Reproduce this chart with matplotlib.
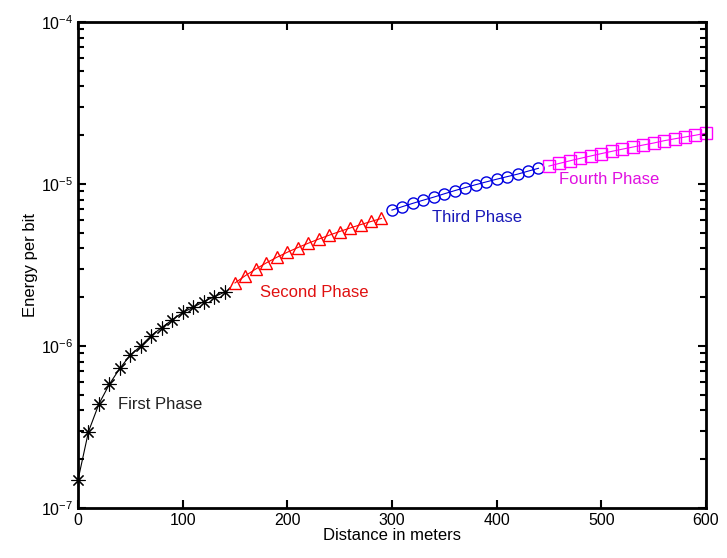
import matplotlib.pyplot as plt

plt.rcParams["font.family"] = ["Liberation Sans", "DejaVu Sans"]

# distance (m) and energy per bit for each phase
dist_1 = [0, 10, 20, 30, 40, 50, 60, 70, 80, 90, 100, 110, 120, 130, 140]
energy_1 = [1.49e-7, 2.96e-7, 4.39e-7, 5.81e-7, 7.28e-7, 8.79e-7, 1.00e-6, 1.16e-6,
            1.30e-6, 1.45e-6, 1.61e-6, 1.73e-6, 1.88e-6, 2.01e-6, 2.15e-6]

dist_2 = [150, 160, 170, 180, 190, 200, 210, 220, 230, 240, 250, 260, 270, 280, 290]
energy_2 = [2.45e-6, 2.72e-6, 2.99e-6, 3.26e-6, 3.53e-6, 3.79e-6, 4.05e-6, 4.31e-6,
            4.57e-6, 4.83e-6, 5.09e-6, 5.35e-6, 5.61e-6, 5.87e-6, 6.13e-6]

dist_3 = [300, 310, 320, 330, 340, 350, 360, 370, 380, 390, 400, 410, 420, 430, 440]
energy_3 = [6.90e-6, 7.25e-6, 7.60e-6, 7.95e-6, 8.30e-6, 8.70e-6, 9.10e-6, 9.50e-6,
            9.90e-6, 1.03e-5, 1.07e-5, 1.11e-5, 1.15e-5, 1.20e-5, 1.25e-5]

dist_4 = [450, 460, 470, 480, 490, 500, 510, 520, 530, 540, 550, 560, 570, 580, 590, 600]
energy_4 = [1.29e-5, 1.34e-5, 1.39e-5, 1.44e-5, 1.49e-5, 1.54e-5, 1.59e-5, 1.64e-5,
            1.69e-5, 1.74e-5, 1.79e-5, 1.85e-5, 1.90e-5, 1.95e-5, 2.00e-5, 2.06e-5]

phase_labels = ["First Phase", "Second Phase", "Third Phase", "Fourth Phase"]
label_pos = [(38, 4.38e-7), (174, 2.13e-6), (338, 6.19e-6), (460, 1.06e-5)]

fig = plt.figure(figsize=(7.27, 5.58), dpi=100)
ax = fig.add_axes([0.1073, 0.0896, 0.8637, 0.871])

# matlab-like asterisk: 8 spokes
ax.plot(dist_1, energy_1, color="black", marker=(8, 2, 0), markersize=10,
        markeredgewidth=0.8, linewidth=0.8, clip_on=False)
ax.plot(dist_2, energy_2, color="red", marker="^", markersize=8,
        markerfacecolor="none", linewidth=0.8, clip_on=False)
ax.plot(dist_3, energy_3, color="#0000e0", marker="o", markersize=8,
        markerfacecolor="none", linewidth=0.8, clip_on=False)
ax.plot(dist_4, energy_4, color="magenta", marker="s", markersize=8,
        markerfacecolor="none", linewidth=0.8, clip_on=False)

label_colors = ["#202020", "#e01010", "#1818b8", "#e010e0"]
for text, (lx, ly), c in zip(phase_labels, label_pos, label_colors):
    ax.text(lx, ly, text, color=c, fontsize=12, ha="left", va="center")

ax.set_yscale("log")
ax.set_xlim(0, 600)
ax.set_ylim(1e-7, 1e-4)
ax.set_xticks([0, 100, 200, 300, 400, 500, 600])
ax.set_xlabel("Distance in meters", fontsize=12, labelpad=0)
ax.set_ylabel("Energy per bit", fontsize=12, labelpad=2)

for s in ax.spines.values():
    s.set_linewidth(2)
ax.tick_params(which="both", direction="in", top=True, right=True, labelsize=11.5)
ax.tick_params(which="major", length=6, width=1.5)
ax.tick_params(which="minor", length=4, width=1.5)

fig.savefig("out.png", dpi=100)
